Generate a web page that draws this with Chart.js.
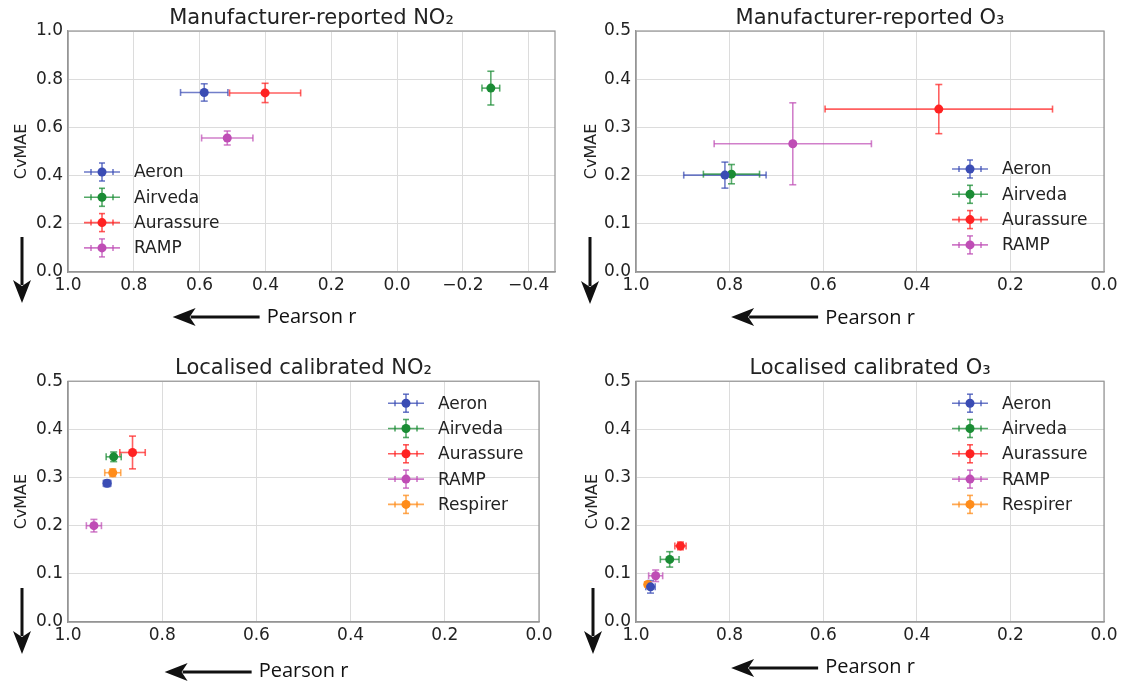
<!DOCTYPE html>
<html>
<head>
<meta charset="utf-8">
<script src="https://cdn.jsdelivr.net/npm/chart.js@4.4.1/dist/chart.umd.min.js"></script>
<style>
html, body { margin: 0; padding: 0; background: #ffffff; }
#wrap { position: relative; width: 1126px; height: 685px; overflow: hidden; background: #ffffff; }
#wrap canvas { position: absolute; }
</style>
</head>
<body>
<div id="wrap">
  <canvas id="c1"></canvas>
  <canvas id="c2"></canvas>
  <canvas id="c3"></canvas>
  <canvas id="c4"></canvas>
</div>
<script>
// ---------------- DATA ----------------
const sensorNames = ['Aeron', 'Airveda', 'Aurassure', 'RAMP', 'Respirer'];

// Manufacturer-reported NO2
const mfrNo2R      = [0.586, -0.285, 0.401, 0.516];
const mfrNo2RErr   = [0.072, 0.027, 0.108, 0.078];
const mfrNo2Cv     = [0.745, 0.763, 0.743, 0.556];
const mfrNo2CvErr  = [0.036, 0.070, 0.040, 0.029];

// Manufacturer-reported O3
const mfrO3R       = [0.810, 0.796, 0.353, 0.665];
const mfrO3RErr    = [0.088, 0.060, 0.243, 0.168];
const mfrO3Cv      = [0.201, 0.203, 0.338, 0.266];
const mfrO3CvErr   = [0.027, 0.020, 0.051, 0.085];

// Localised calibrated NO2
const locNo2R      = [0.917, 0.903, 0.863, 0.945, 0.905];
const locNo2RErr   = [0.008, 0.016, 0.027, 0.016, 0.017];
const locNo2Cv     = [0.288, 0.343, 0.352, 0.200, 0.310];
const locNo2CvErr  = [0.007, 0.010, 0.034, 0.013, 0.008];

// Localised calibrated O3
const locO3R       = [0.969, 0.928, 0.905, 0.958, 0.975];
const locO3RErr    = [0.010, 0.020, 0.012, 0.015, 0.005];
const locO3Cv      = [0.073, 0.130, 0.158, 0.096, 0.078];
const locO3CvErr   = [0.013, 0.016, 0.008, 0.012, 0.005];

// axis ranges
const xMinNo2Mfr = -0.48, xMinOther = 0.0, xMaxAll = 1.0;
const yMaxNo2Mfr = 1.0, yMaxOther = 0.5;
const yStepNo2Mfr = 0.2, yStepOther = 0.1, xStep = 0.2;

// ---------------- STYLE ----------------
const sensorColors = ['#3a4cb4', '#1a8c34', '#ff2222', '#bf4db5', '#ff8c1a'];
const FONT = "'DejaVu Sans', 'Liberation Sans', sans-serif";
const XTITLE_FONT = "'Open Sans', 'DejaVu Sans', sans-serif";
const TXT = '#222222';

function hexToRgba(hex, a) {
  const n = parseInt(hex.slice(1), 16);
  return 'rgba(' + ((n >> 16) & 255) + ',' + ((n >> 8) & 255) + ',' + (n & 255) + ',' + a + ')';
}

function buildDatasets(r, rErr, cv, cvErr) {
  return r.map((v, i) => ({
    label: sensorNames[i],
    data: [{ x: v, y: cv[i] }],
    xErr: [rErr[i]],
    yErr: [cvErr[i]],
    backgroundColor: sensorColors[i],
    borderColor: sensorColors[i],
    pointRadius: 4.5,
    pointHoverRadius: 4.5,
    borderWidth: 0
  }));
}

function line(ctx, x1, y1, x2, y2) {
  ctx.beginPath(); ctx.moveTo(x1, y1); ctx.lineTo(x2, y2); ctx.stroke();
}

const framePlugin = {
  id: 'frame',
  beforeDatasetsDraw(chart) {
    const a = chart.chartArea, ctx = chart.ctx;
    ctx.save();
    ctx.strokeStyle = '#959595';
    ctx.lineWidth = 1.2;
    ctx.strokeRect(a.left, a.top, a.right - a.left, a.bottom - a.top);
    ctx.restore();
  }
};

const errorBarPlugin = {
  id: 'errorBars',
  beforeDatasetsDraw(chart) {
    const ctx = chart.ctx, xs = chart.scales.x, ys = chart.scales.y;
    const cap = 3.5;
    chart.data.datasets.forEach(ds => {
      ds.data.forEach((p, j) => {
        const px = xs.getPixelForValue(p.x), py = ys.getPixelForValue(p.y);
        const xa = xs.getPixelForValue(p.x - ds.xErr[j]), xb = xs.getPixelForValue(p.x + ds.xErr[j]);
        const ya = ys.getPixelForValue(p.y - ds.yErr[j]), yb = ys.getPixelForValue(p.y + ds.yErr[j]);
        ctx.save();
        ctx.strokeStyle = hexToRgba(ds.borderColor, 0.72);
        ctx.lineWidth = 1.6;
        line(ctx, xa, py, xb, py);
        line(ctx, xa, py - cap, xa, py + cap);
        line(ctx, xb, py - cap, xb, py + cap);
        line(ctx, px, ya, px, yb);
        line(ctx, px - cap, ya, px + cap, ya);
        line(ctx, px - cap, yb, px + cap, yb);
        ctx.restore();
      });
    });
  }
};

const legendPlugin = {
  id: 'errLegend',
  afterDatasetsDraw(chart, args, opts) {
    const ctx = chart.ctx, a = chart.chartArea;
    const cx = opts.fromRight ? a.right - opts.dx : a.left + opts.dx;
    const y0 = a.top + opts.dy;
    const gap = 25.3;
    ctx.save();
    chart.data.datasets.forEach((ds, i) => {
      const cy = y0 + i * gap;
      ctx.strokeStyle = hexToRgba(ds.borderColor, 0.75);
      ctx.lineWidth = 1.6;
      line(ctx, cx - 18, cy, cx + 18, cy);
      line(ctx, cx - 11, cy - 3, cx - 11, cy + 3);
      line(ctx, cx + 11, cy - 3, cx + 11, cy + 3);
      line(ctx, cx, cy - 9, cx, cy + 9);
      line(ctx, cx - 3, cy - 9, cx + 3, cy - 9);
      line(ctx, cx - 3, cy + 9, cx + 3, cy + 9);
      ctx.fillStyle = ds.backgroundColor;
      ctx.beginPath(); ctx.arc(cx, cy, 4.5, 0, Math.PI * 2); ctx.fill();
      ctx.fillStyle = TXT;
      ctx.font = '17px ' + FONT;
      ctx.textBaseline = 'middle';
      ctx.textAlign = 'left';
      ctx.fillText(ds.label, cx + 32, cy + 1);
    });
    ctx.restore();
  }
};

const arrowPlugin = {
  id: 'dirArrows',
  afterDraw(chart, args, opts) {
    const ctx = chart.ctx, xs = chart.scales.x;
    ctx.save();
    ctx.strokeStyle = '#111'; ctx.fillStyle = '#111'; ctx.lineWidth = 3;
    // downward arrow next to the CvMAE axis
    const d = opts.down;
    line(ctx, d.x, d.y1, d.x, d.y2 - 18);
    ctx.beginPath();
    ctx.moveTo(d.x, d.y2); ctx.lineTo(d.x - 9, d.y2 - 23); ctx.lineTo(d.x, d.y2 - 17); ctx.lineTo(d.x + 9, d.y2 - 23);
    ctx.closePath(); ctx.fill();
    // leftward arrow just before the "Pearson r" axis title
    const t = xs.options.title;
    ctx.font = t.font.size + 'px ' + XTITLE_FONT;
    const w = ctx.measureText(t.text).width;
    const tail = (xs.left + xs.right) / 2 - w / 2 - 7;
    const tip = tail - 87;
    const y = opts.y;
    line(ctx, tip + 18, y, tail, y);
    ctx.beginPath();
    ctx.moveTo(tip, y); ctx.lineTo(tip + 23, y - 9); ctx.lineTo(tip + 17, y); ctx.lineTo(tip + 23, y + 9);
    ctx.closePath(); ctx.fill();
    ctx.restore();
  }
};

function fmtTick(v) {
  if (Math.abs(v) < 1e-9) return '0.0';
  return v.toFixed(1).replace('-', '\u2212');
}

const panels = [
  { id: 'c1', title: 'Manufacturer-reported NO\u2082', r: mfrNo2R, rErr: mfrNo2RErr, cv: mfrNo2Cv, cvErr: mfrNo2CvErr,
    xMin: xMinNo2Mfr, yMax: yMaxNo2Mfr, yStep: yStepNo2Mfr,
    canvas: { x: 0, y: 0, w: 563, h: 343 }, area: { L: 68, R: 555, T: 31, B: 272 },
    titleTop: 5.5, yTitleTop: 12, xTitleBottom: 14,
    legend: { fromRight: false, dx: 34, dy: 141 },
    down: { x: 22, y1: 237, y2: 303 }, arrowY: 317 },
  { id: 'c2', title: 'Manufacturer-reported O\u2083', r: mfrO3R, rErr: mfrO3RErr, cv: mfrO3Cv, cvErr: mfrO3CvErr,
    xMin: xMinOther, yMax: yMaxOther, yStep: yStepOther,
    canvas: { x: 563, y: 0, w: 563, h: 343 }, area: { L: 636, R: 1104, T: 31, B: 272 },
    titleTop: 5.5, yTitleTop: 19, xTitleBottom: 13,
    legend: { fromRight: true, dx: 134, dy: 138 },
    down: { x: 590, y1: 237, y2: 304 }, arrowY: 317 },
  { id: 'c3', title: 'Localised calibrated NO\u2082', r: locNo2R, rErr: locNo2RErr, cv: locNo2Cv, cvErr: locNo2CvErr,
    xMin: xMinOther, yMax: yMaxOther, yStep: yStepOther,
    canvas: { x: 0, y: 343, w: 563, h: 342 }, area: { L: 68, R: 539, T: 381, B: 622 },
    titleTop: 13, yTitleTop: 12, xTitleBottom: 2,
    legend: { fromRight: true, dx: 133, dy: 22 },
    down: { x: 22, y1: 588, y2: 654 }, arrowY: 672 },
  { id: 'c4', title: 'Localised calibrated O\u2083', r: locO3R, rErr: locO3RErr, cv: locO3Cv, cvErr: locO3CvErr,
    xMin: xMinOther, yMax: yMaxOther, yStep: yStepOther,
    canvas: { x: 563, y: 343, w: 563, h: 342 }, area: { L: 636, R: 1104, T: 381, B: 622 },
    titleTop: 13, yTitleTop: 20, xTitleBottom: 6,
    legend: { fromRight: true, dx: 134, dy: 22 },
    down: { x: 593, y1: 588, y2: 654 }, arrowY: 668 }
];

function makeChart(p) {
  const el = document.getElementById(p.id);
  const c = p.canvas;
  el.width = c.w; el.height = c.h;
  el.style.left = c.x + 'px'; el.style.top = c.y + 'px';
  el.style.width = c.w + 'px'; el.style.height = c.h + 'px';
  const yW = p.area.L - c.x;
  const xH = c.y + c.h - p.area.B;
  const padR = c.x + c.w - p.area.R;
  const titleH = p.area.T - c.y;
  const titleSize = 21;
  const titleLine = titleSize * 1.2;
  new Chart(el, {
    type: 'scatter',
    data: { datasets: buildDatasets(p.r, p.rErr, p.cv, p.cvErr) },
    options: {
      responsive: false,
      maintainAspectRatio: false,
      animation: false,
      events: [],
      layout: { padding: { left: 0, right: padR, top: 0, bottom: 0 } },
      plugins: {
        legend: { display: false },
        tooltip: { enabled: false },
        title: {
          display: true, text: p.title, fullSize: false, color: TXT,
          font: { family: FONT, size: titleSize, weight: 'normal', lineHeight: 1.2 },
          padding: { top: p.titleTop, bottom: Math.max(0, titleH - titleLine - p.titleTop) }
        },
        errLegend: p.legend,
        dirArrows: {
          down: { x: p.down.x - c.x, y1: p.down.y1 - c.y, y2: p.down.y2 - c.y },
          y: p.arrowY - c.y
        }
      },
      scales: {
        x: {
          type: 'linear', reverse: true, min: p.xMin, max: xMaxAll,
          afterFit(s) { s.height = xH; },
          ticks: { stepSize: xStep, includeBounds: false, maxRotation: 0, minRotation: 0, autoSkip: false,
                   padding: 3, color: TXT, font: { family: FONT, size: 17 }, callback: fmtTick },
          grid: { color: '#dcdcdc', lineWidth: 1, drawTicks: false },
          border: { display: true, color: '#959595', width: 1.2 },
          title: { display: true, text: 'Pearson r', color: '#111',
                   font: { family: XTITLE_FONT, size: 20, lineHeight: 1.2 },
                   padding: { top: 0, bottom: p.xTitleBottom } }
        },
        y: {
          type: 'linear', min: 0, max: p.yMax,
          afterFit(s) { s.width = yW; },
          ticks: { stepSize: p.yStep, padding: 5, color: TXT, font: { family: FONT, size: 17 }, callback: fmtTick },
          grid: { color: '#dcdcdc', lineWidth: 1, drawTicks: false },
          border: { display: true, color: '#959595', width: 1.2 },
          title: { display: true, text: 'CvMAE', color: TXT,
                   font: { family: FONT, size: 16, lineHeight: 1.2 },
                   padding: { top: p.yTitleTop, bottom: 0 } }
        }
      }
    },
    plugins: [framePlugin, errorBarPlugin, legendPlugin, arrowPlugin]
  });
}

panels.forEach(makeChart);
</script>
</body>
</html>
